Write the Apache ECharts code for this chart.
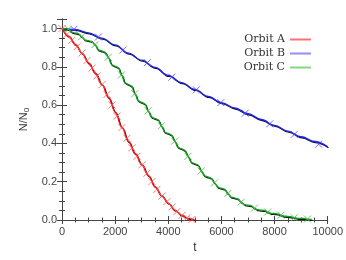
<!DOCTYPE html>
<html>
<head>
<meta charset="utf-8">
<script src="https://cdn.jsdelivr.net/npm/echarts@6/dist/echarts.min.js"></script>
<style>html,body{margin:0;padding:0;background:#fff;}#c{width:346px;height:260px;}</style>
</head>
<body>
<div id="c"></div>
<script>
// ---- data ----
const seriesNames = ['Orbit A', 'Orbit B', 'Orbit C'];
const xTicks = [0, 2000, 4000, 6000, 8000, 10000];
const yTicks = [0.0, 0.2, 0.4, 0.6, 0.8, 1.0];

const orbitA_line = [[0,1.0],[250,0.960],[500,0.917],[750,0.872],[1000,0.821],[1250,0.768],[1500,0.708],[1750,0.640],[2000,0.565],[2250,0.485],[2500,0.410],[2750,0.348],[3000,0.290],[3250,0.232],[3500,0.174],[3750,0.127],[4000,0.088],[4250,0.052],[4500,0.025],[4750,0.008],[5000,0.0]];
const orbitA_marks = [[0,1.0],[188,0.970],[376,0.939],[564,0.905],[752,0.872],[940,0.833],[1128,0.794],[1316,0.752],[1504,0.707],[1692,0.656],[1880,0.601],[2068,0.543],[2256,0.483],[2444,0.427],[2632,0.377],[2820,0.332],[3008,0.288],[3196,0.244],[3384,0.201],[3572,0.160],[3760,0.125],[3948,0.096],[4136,0.068],[4324,0.044],[4512,0.024],[4700,0.011],[4888,0.003]];

const orbitB_line = [[0,1.0],[500,0.996],[1000,0.978],[1500,0.950],[2000,0.915],[2500,0.872],[3000,0.835],[3500,0.797],[4000,0.755],[4500,0.718],[5000,0.682],[5500,0.646],[6000,0.613],[6500,0.585],[7000,0.555],[7500,0.525],[8000,0.494],[8500,0.464],[9000,0.435],[9500,0.410],[10000,0.383]];
const orbitB_marks = [[450,0.996],[1371,0.956],[2292,0.888],[3213,0.822],[4134,0.746],[5055,0.680],[5976,0.613],[6897,0.558],[7818,0.502],[8739,0.447],[9660,0.396]];

const orbitC_line = [[0,1.0],[120,0.999],[240,0.997],[365,0.981],[490,0.977],[615,0.974],[740,0.958],[865,0.941],[990,0.937],[1115,0.933],[1240,0.916],[1365,0.889],[1490,0.883],[1615,0.877],[1740,0.850],[1865,0.812],[1990,0.804],[2115,0.796],[2240,0.758],[2365,0.718],[2490,0.709],[2615,0.700],[2740,0.660],[2865,0.623],[2990,0.615],[3115,0.607],[3240,0.570],[3365,0.538],[3490,0.531],[3615,0.524],[3740,0.492],[3865,0.459],[3990,0.452],[4115,0.445],[4240,0.412],[4365,0.380],[4490,0.373],[4615,0.365],[4740,0.333],[4865,0.301],[4990,0.295],[5115,0.288],[5240,0.256],[5365,0.231],[5490,0.225],[5615,0.219],[5740,0.194],[5865,0.171],[5990,0.166],[6115,0.161],[6240,0.138],[6365,0.120],[6490,0.116],[6615,0.111],[6740,0.093],[6865,0.080],[6990,0.078],[7115,0.075],[7240,0.062],[7365,0.054],[7490,0.052],[7615,0.050],[7740,0.042],[7865,0.035],[7990,0.034],[8115,0.032],[8240,0.025],[8365,0.020],[8490,0.019],[8615,0.017],[8740,0.012],[8865,0.009],[8990,0.009],[9115,0.008],[9240,0.005],[9400,0.003]];
const orbitC_marks = [[240,0.997],[740,0.958],[1240,0.916],[1740,0.850],[2240,0.758],[2740,0.660],[3240,0.570],[3740,0.492],[4240,0.412],[4740,0.333],[5240,0.256],[5740,0.194],[6240,0.138],[6740,0.093],[7240,0.062],[7740,0.042],[8240,0.025],[8740,0.012],[9240,0.005]];

// ---- styles ----
const lineColors = ['#ff1010', '#2020ff', '#10a020'];
const markColors = ['#ff5a5a', '#4848ff', '#44bb44'];
const legendColors = ['#ff7070', '#9090ff', '#80d880'];
const frame = '#444';
const crossPath = 'path://M0,0L10,10M10,0L0,10';

const chart = echarts.init(document.getElementById('c'), null, {renderer: 'canvas'});

function lineSeries(i, data) {
  return {
    name: seriesNames[i], type: 'line', data: data, showSymbol: false, symbol: 'none',
    smooth: 0.4, smoothMonotone: 'x', z: 3,
    lineStyle: {color: lineColors[i], width: 1.3, shadowColor: '#111', shadowOffsetX: 0.8, shadowOffsetY: 1, shadowBlur: 0},
    itemStyle: {color: lineColors[i]}, silent: true, animation: false
  };
}
function markSeries(i, data) {
  return {
    type: 'scatter', data: data, symbol: crossPath, symbolSize: 7, z: 4,
    itemStyle: {color: 'transparent', borderColor: markColors[i], borderWidth: 1},
    silent: true, animation: false
  };
}
const axisCommon = {
  axisLine: {show: true, lineStyle: {color: frame, width: 1}},
  splitLine: {show: false},
};

chart.setOption({
  animation: false,
  backgroundColor: '#fff',
  grid: {left: 62, right: 18, top: 19, bottom: 40, containLabel: false},
  legend: {
    orient: 'vertical', right: 30, top: 28, align: 'right', itemGap: 1,
    itemWidth: 21, itemHeight: 2, icon: 'rect',
    textStyle: {fontFamily: 'DejaVu Serif', fontSize: 11, color: '#333', lineHeight: 13},
    data: seriesNames.map((n, i) => ({name: n, itemStyle: {color: legendColors[i]}}))
  },
  xAxis: [
    Object.assign({}, axisCommon, {
      type: 'value', min: xTicks[0], max: xTicks[xTicks.length - 1], interval: 2000, position: 'bottom',
      name: 't', nameLocation: 'middle', nameGap: 18,
      nameTextStyle: {fontFamily: 'Liberation Sans', fontSize: 12, color: '#333'},
      axisTick: {show: true, inside: true, length: 4, lineStyle: {color: frame}},
      minorTick: {show: true, splitNumber: 4, length: 2.5, lineStyle: {color: frame}},
      axisLabel: {fontFamily: 'Liberation Sans', fontSize: 11, color: '#444', margin: 6,
        formatter: v => String(Math.round(v))}
    }),
    Object.assign({}, axisCommon, {
      type: 'value', min: xTicks[0], max: xTicks[xTicks.length - 1], interval: 2000, position: 'top',
      axisTick: {show: true, inside: true, length: 4, lineStyle: {color: frame}},
      minorTick: {show: true, splitNumber: 4, length: 2.5, lineStyle: {color: frame}},
      axisLabel: {show: false}
    })
  ],
  yAxis: [
    Object.assign({}, axisCommon, {
      type: 'value', min: 0, max: 1.05, interval: 0.2, position: 'left',
      name: 'N/N{s|0}', nameLocation: 'middle', nameGap: 29, nameRotate: 90,
      nameTextStyle: {fontFamily: 'Liberation Sans', fontSize: 11, color: '#333',
        rich: {s: {fontFamily: 'Liberation Sans', fontSize: 8, color: '#333', verticalAlign: 'bottom', padding: [6, 0, 0, 0]}}},
      axisTick: {show: true, inside: true, length: 5, lineStyle: {color: frame}},
      minorTick: {show: true, splitNumber: 4, length: 3, lineStyle: {color: frame}},
      axisLabel: {fontFamily: 'Liberation Sans', fontSize: 11, color: '#444', margin: 5, showMaxLabel: false,
        formatter: v => (Math.abs(v - 1.05) < 1e-6 ? '' : v.toFixed(1))}
    }),
    Object.assign({}, axisCommon, {
      type: 'value', min: 0, max: 1.05, interval: 0.2, position: 'right',
      axisTick: {show: true, inside: true, length: 5, lineStyle: {color: frame}},
      minorTick: {show: true, splitNumber: 4, length: 3, lineStyle: {color: frame}},
      axisLabel: {show: false}
    })
  ],
  series: [
    lineSeries(0, orbitA_line),
    lineSeries(1, orbitB_line),
    lineSeries(2, orbitC_line),
    markSeries(0, orbitA_marks),
    markSeries(1, orbitB_marks),
    markSeries(2, orbitC_marks)
  ]
});
</script>
</body>
</html>
